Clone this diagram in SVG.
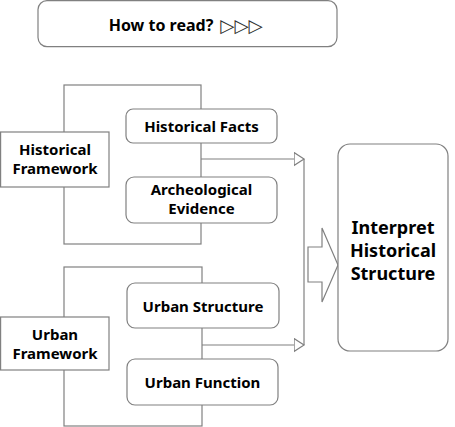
<svg xmlns="http://www.w3.org/2000/svg" width="455" height="427" viewBox="0 0 455 427">
<defs>
<style>
.ln{fill:none;stroke:#808080;stroke-width:1.2}
.bx{fill:#ffffff;stroke:#808080;stroke-width:1.2}
.t{font-family:"Noto Sans","Open Sans","DejaVu Sans",sans-serif;font-weight:bold;font-size:15px;fill:#000;text-anchor:middle}
.big{font-size:18px}
</style>
<marker id="ah" markerUnits="userSpaceOnUse" markerWidth="12" markerHeight="16" refX="10.5" refY="7" orient="auto">
<path d="M0.6,0.6 L10.5,7 L0.6,13.4 Z" fill="#ffffff" stroke="#808080" stroke-width="1.2"/>
</marker>
</defs>
<rect width="455" height="427" fill="#ffffff"/>
<g id="connectors">
<rect class="ln" x="64" y="85" width="137" height="159"/>
<rect class="ln" x="64" y="267" width="138" height="159"/>
<line class="ln" x1="201" y1="159" x2="304" y2="159" marker-end="url(#ah)"/>
<line class="ln" x1="202" y1="345" x2="304" y2="345" marker-end="url(#ah)"/>
<line class="ln" x1="304" y1="159" x2="304" y2="345"/>
<path class="bx" d="M308,247 L322,247 L322,228 L338,265 L322,302 L322,282 L308,282 Z"/>
</g>
<g id="title">
<rect class="bx" x="38" y="0.6" width="299" height="46" rx="9"/>
<text class="t" x="161" y="31" font-size="16" style="font-size:16px">How to read?</text>
<text x="241.5" y="31.5" font-family="DejaVu Sans,sans-serif" font-size="18.5" fill="#333" text-anchor="middle">▷▷▷</text>
</g>
<g id="historical-framework">
<rect class="bx" x="0.6" y="132" width="108.4" height="55"/>
<text class="t" x="55" y="155">Historical</text>
<text class="t" x="55" y="174">Framework</text>
</g>
<g id="historical-facts">
<rect class="bx" x="126" y="109" width="151" height="34" rx="7"/>
<text class="t" x="201.5" y="132">Historical Facts</text>
</g>
<g id="archeological-evidence">
<rect class="bx" x="126" y="177" width="151" height="46" rx="8"/>
<text class="t" x="201.5" y="195">Archeological</text>
<text class="t" x="201.5" y="214">Evidence</text>
</g>
<g id="urban-framework">
<rect class="bx" x="0.6" y="317" width="108.4" height="53"/>
<text class="t" x="55" y="340">Urban</text>
<text class="t" x="55" y="359">Framework</text>
</g>
<g id="urban-structure">
<rect class="bx" x="127" y="283" width="152" height="45" rx="8"/>
<text class="t" x="203" y="312">Urban Structure</text>
</g>
<g id="urban-function">
<rect class="bx" x="127" y="359" width="151" height="46" rx="8"/>
<text class="t" x="202.5" y="388">Urban Function</text>
</g>
<g id="interpret">
<rect class="bx" x="338" y="144" width="110" height="207" rx="12"/>
<text class="t big" x="393" y="234">Interpret</text>
<text class="t big" x="393" y="257">Historical</text>
<text class="t big" x="393" y="280">Structure</text>
</g>
</svg>
